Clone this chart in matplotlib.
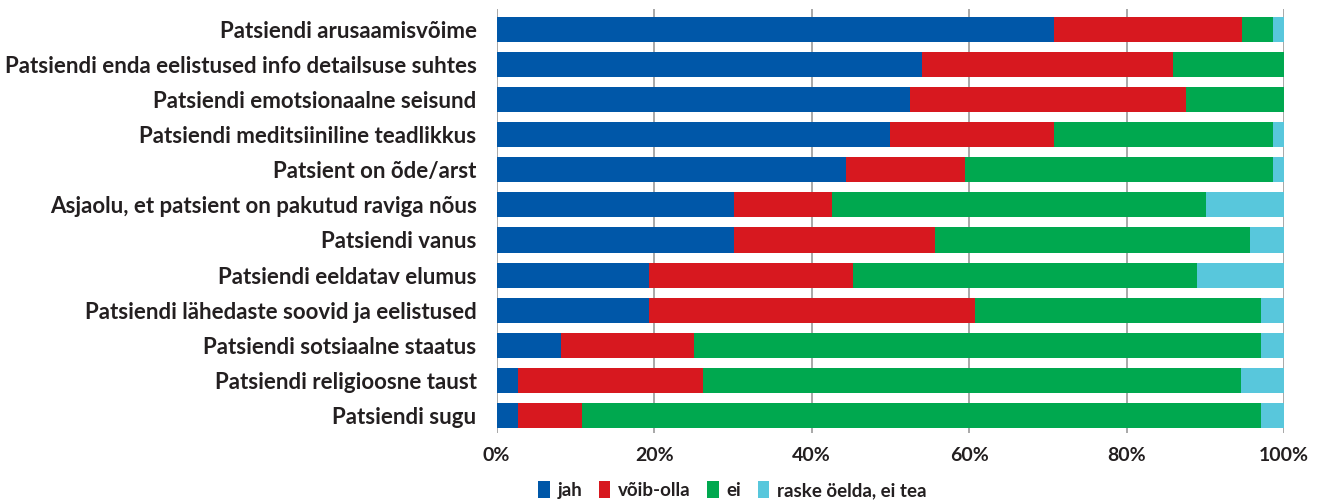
import matplotlib
matplotlib.use("Agg")
import matplotlib.pyplot as plt
from matplotlib.patches import Patch
import numpy as np

plt.rcParams['font.family'] = ['Lato', 'DejaVu Sans']
plt.rcParams['font.weight'] = 'bold'

categories = [
    "Patsiendi arusaamisvõime",
    "Patsiendi enda eelistused info detailsuse suhtes",
    "Patsiendi emotsionaalne seisund",
    "Patsiendi meditsiiniline teadlikkus",
    "Patsient on õde/arst",
    "Asjaolu, et patsient on pakutud raviga nõus",
    "Patsiendi vanus",
    "Patsiendi eeldatav elumus",
    "Patsiendi lähedaste soovid ja eelistused",
    "Patsiendi sotsiaalne staatus",
    "Patsiendi religioosne taust",
    "Patsiendi sugu",
]
series_names = ["jah", "võib-olla", "ei", "raske öelda, ei tea"]
jah = [70.8, 54.0, 52.5, 50.0, 44.3, 30.1, 30.1, 19.4, 19.4, 8.2, 2.7, 2.7]
voib = [23.8, 31.9, 35.0, 20.8, 15.2, 12.5, 25.5, 25.9, 41.4, 16.9, 23.5, 8.1]
ei = [4.0, 14.1, 12.5, 27.8, 39.1, 47.5, 40.0, 43.6, 36.2, 71.9, 68.3, 86.2]
raske = [1.4, 0.0, 0.0, 1.4, 1.4, 9.9, 4.4, 11.1, 3.0, 3.0, 5.5, 3.0]
xticks = [0, 20, 40, 60, 80, 100]
xticklabels = ["0%", "20%", "40%", "60%", "80%", "100%"]
colors = ["#0057A8", "#D7181F", "#00A84F", "#58C7DC"]
text_color = "#231F20"

fig = plt.figure(figsize=(13.29, 5.01), dpi=100)
ax = fig.add_axes([0.3737, 0.1357, 0.9663 - 0.3737, 0.982 - 0.1357])

y = np.arange(len(categories))
left = np.zeros(len(categories))
for vals, c, name in zip([jah, voib, ei, raske], colors, series_names):
    v = np.array(vals)
    ax.barh(y, v, left=left, height=0.715, color=c, label=name, zorder=3, linewidth=0)
    left += v

ax.set_xlim(0, 100)
ax.set_ylim(len(categories) - 0.5, -0.58)
ax.set_yticks(y)
ax.set_yticklabels(categories, fontsize=16, color=text_color, fontweight='bold')
ax.set_xticks(xticks)
ax.set_xticklabels(xticklabels, fontsize=14, color=text_color, fontweight='bold')
ax.tick_params(axis='y', length=0, pad=14.5)
ax.tick_params(axis='x', length=0, pad=10)
for s in ax.spines.values():
    s.set_visible(False)
ax.grid(axis='x', color='#A8A8A8', linewidth=1.4, zorder=0)
ax.set_axisbelow(True)

handles = [Patch(facecolor=c, edgecolor='none') for c in colors]
leg = fig.legend(handles, series_names, loc='center', bbox_to_anchor=(0.551, 0.022),
                 ncol=4, frameon=False, handlelength=0.61, handleheight=1.0,
                 handletextpad=0.4, columnspacing=0.9, borderpad=0,
                 fontsize=13.5)
for t in leg.get_texts():
    t.set_fontweight('bold')
    t.set_color(text_color)

fig.savefig("out.png", dpi=100)
